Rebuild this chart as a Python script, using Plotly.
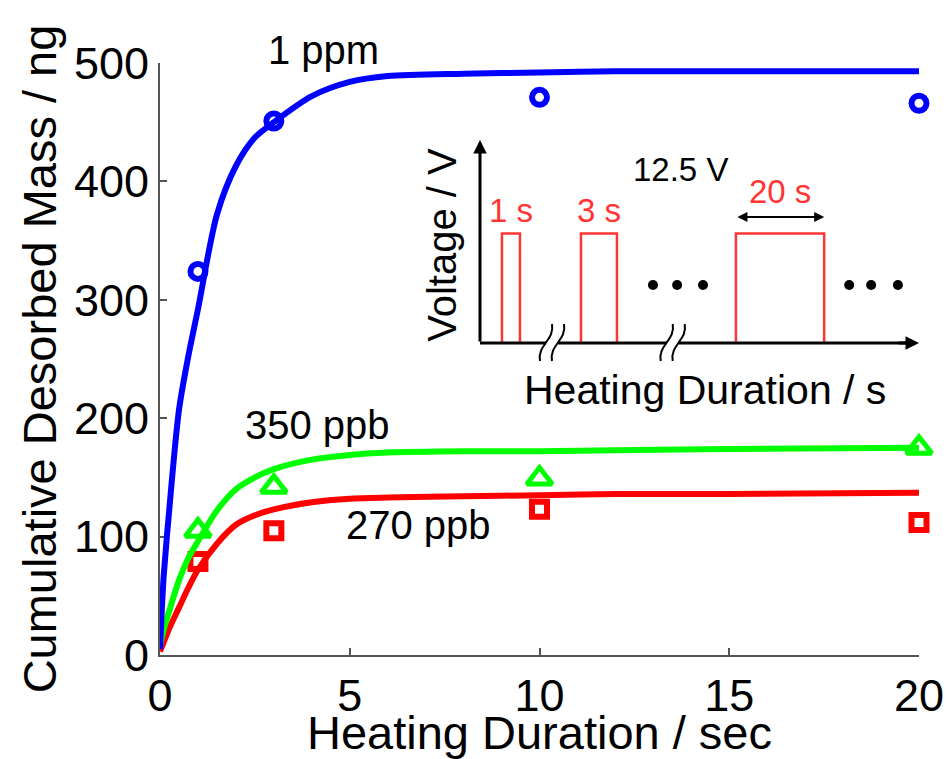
import plotly.graph_objects as go

# ---- desorption data -------------------------------------------------------
# fitted cumulative desorbed mass (ng) vs heating duration (s)
t_fit = [0, 0.05, 0.1, 0.25, 0.5, 0.75, 1, 1.5, 2, 2.5, 3, 4, 5, 6, 8, 10, 12, 15, 20]
fit_1ppm = [5, 40, 68, 125, 207, 253, 292, 372, 413, 437, 450, 472, 484, 489, 491, 492, 493, 493, 493]
fit_350ppb = [8, 15, 22, 38, 63, 82, 96, 122, 140, 150, 157, 165, 169, 171, 172, 172, 173, 174, 175]
fit_270ppb = [3, 7, 11, 23, 40, 57, 72, 94, 110, 118, 123, 129, 132, 133, 134, 135, 136, 136, 137]

# measured points
t_meas = [1, 3, 10, 20]
meas_1ppm = [324, 451, 471, 466]
meas_350ppb = [105, 142, 149, 175]
meas_270ppb = [79, 105, 123, 112]

x_ticks = [0, 5, 10, 15, 20]
y_ticks = [0, 100, 200, 300, 400, 500]

# ---- heating-pulse schematic (inset, arbitrary units 0-100) ----------------
pulse_start = [5.0, 23.0, 58.3]
pulse_width = [4.1, 8.2, 20.1]
pulse_height = 54
pulse_labels = ["1 s", "3 s", "20 s"]
ellipsis_x = [39.4, 44.9, 50.8, 84.1, 89.1, 95.2]
ellipsis_y = [28.6] * 6
break_x = [16.4, 43.9]

BLUE, GREEN, RED = "#0000ff", "#00ff00", "#ff0000"
PULSE_RED = "#ff3535"
AXIS_GREY = "#555555"
FONT = "Liberation Sans, Arial, sans-serif"

fig = go.Figure()

# fitted curves + measured markers
series = [
    (fit_270ppb, meas_270ppb, RED, "square-open", 15, 6),
    (fit_350ppb, meas_350ppb, GREEN, "triangle-up-open", 22, 5),
    (fit_1ppm, meas_1ppm, BLUE, "circle-open", 15, 6),
]
for fit, meas, col, sym, msize, mlw in series:
    fig.add_trace(go.Scatter(
        x=t_fit, y=fit, mode="lines", line=dict(color=col, width=6, shape="spline", smoothing=0.8),
        cliponaxis=False, hoverinfo="skip"))
    fig.add_trace(go.Scatter(
        x=t_meas, y=meas, mode="markers",
        marker=dict(symbol=sym, size=msize, color=col, line=dict(color=col, width=mlw)),
        cliponaxis=False))

# inset axes: x2 spans -12..100, y2 spans -30..100 (schematic units)
UX = 100 / 439.0   # x2 units per pixel
UY = 100 / 203.0   # y2 units per pixel

# inset: pulses
px_pulse, py_pulse = [], []
for s, w in zip(pulse_start, pulse_width):
    px_pulse += [s, s, s + w, s + w, None]
    py_pulse += [0, pulse_height, pulse_height, 0, None]
fig.add_trace(go.Scatter(x=px_pulse, y=py_pulse, mode="lines", xaxis="x2", yaxis="y2",
                         line=dict(color=PULSE_RED, width=2.5), cliponaxis=False, hoverinfo="skip"))

# inset: ellipsis dots
fig.add_trace(go.Scatter(x=ellipsis_x, y=ellipsis_y, mode="markers", xaxis="x2", yaxis="y2",
                         marker=dict(color="black", size=10), cliponaxis=False, hoverinfo="skip"))

# inset: time axis with breaks
gap = 6 * UX
ax_x, ax_y = [0], [0]
for b in break_x:
    ax_x += [b - gap, None, b + gap]
    ax_y += [0, None, 0]
ax_x += [99]
ax_y += [0]
fig.add_trace(go.Scatter(x=ax_x, y=ax_y, mode="lines", xaxis="x2", yaxis="y2",
                         line=dict(color="black", width=3), cliponaxis=False, hoverinfo="skip"))

shapes = []
for b in break_x:
    for d in (-6, 6):
        xb, yb = b + (d - 6) * UX, -18 * UY
        xt, yt = b + (d + 6) * UX, 19 * UY
        path = (f"M{xb},{yb} C{xb - 3 * UX},{yb + 16 * UY} {xt + 3 * UX},{yt - 16 * UY} {xt},{yt}")
        shapes.append(dict(type="path", path=path, xref="x2", yref="y2",
                           line=dict(color="black", width=2)))

annotations = [
    dict(x=4.3, y=1.022, text="1 ppm", xref="x", yref="paper", yanchor="middle",
         showarrow=False, font=dict(size=40)),
    dict(x=4.14, y=194, text="350 ppb", xref="x", yref="y", showarrow=False, font=dict(size=40)),
    dict(x=6.8, y=110, text="270 ppb", xref="x", yref="y", showarrow=False, font=dict(size=40)),
    # inset axes arrows
    dict(x=0, y=100, ax=0, ay=0, xref="x2", yref="y2", axref="x2", ayref="y2", text="",
         showarrow=True, arrowhead=2, arrowsize=0.9, arrowwidth=3, arrowcolor="black"),
    dict(x=100, y=0, ax=95, ay=0, xref="x2", yref="y2", axref="x2", ayref="y2", text="",
         showarrow=True, arrowhead=2, arrowsize=0.9, arrowwidth=3, arrowcolor="black"),
    # double arrow over the long pulse
    dict(x=pulse_start[2] + pulse_width[2], y=62.1, ax=pulse_start[2], ay=62.1,
         xref="x2", yref="y2", axref="x2", ayref="y2", text="", showarrow=True,
         arrowhead=2, startarrowhead=2, arrowside="end+start", arrowsize=1, startarrowsize=1,
         arrowwidth=2, arrowcolor="black"),
    dict(x=45.6, y=85.7, text="12.5 V", xref="x2", yref="y2", showarrow=False, font=dict(size=33)),
    dict(x=-8.7, y=48.3, text="Voltage / V", xref="x2", yref="y2", showarrow=False,
         textangle=-90, font=dict(size=40)),
    dict(x=51.3, y=-23.2, text="Heating Duration / s", xref="x2", yref="y2", showarrow=False,
         font=dict(size=41)),
]
label_y = [65.5, 65.5, 74.4]
for s, w, lab, ly in zip(pulse_start, pulse_width, pulse_labels, label_y):
    annotations.append(dict(x=s + w / 2, y=ly, text=lab, xref="x2", yref="y2", showarrow=False,
                            font=dict(size=33, color=PULSE_RED)))

axis_common = dict(showline=True, linecolor=AXIS_GREY, linewidth=2, ticks="inside", ticklen=7,
                   tickwidth=2, tickcolor=AXIS_GREY, showgrid=False, zeroline=False,
                   mirror=False, layer="below traces", automargin=False,
                   tickfont=dict(size=45, color="black"))

# plot area in pixels: x 160..919, y 63..655
x2_dom = [(480 - 12 / UX - 160) / 759.0, 1.0]
y2_dom = [(655 - (343 + 30 / UY)) / 592.0, (655 - 140) / 592.0]

fig.update_layout(
    width=948, height=759,
    margin=dict(l=160, r=29, t=63, b=104),
    paper_bgcolor="white", plot_bgcolor="white",
    showlegend=False,
    font=dict(family=FONT, color="black"),
    xaxis=dict(range=[0, 20], tickvals=x_ticks,
               title=dict(text="Heating Duration / sec", font=dict(size=47), standoff=9),
               **axis_common),
    yaxis=dict(range=[0, 500], tickvals=y_ticks,
               title=dict(text="Cumulative Desorbed Mass / ng", font=dict(size=47), standoff=2),
               **axis_common),
    xaxis2=dict(domain=x2_dom, anchor="y2", range=[-12, 100], visible=False),
    yaxis2=dict(domain=y2_dom, anchor="x2", range=[-30, 100], visible=False),
    shapes=shapes,
    annotations=annotations,
)

fig.write_html("out.html")
